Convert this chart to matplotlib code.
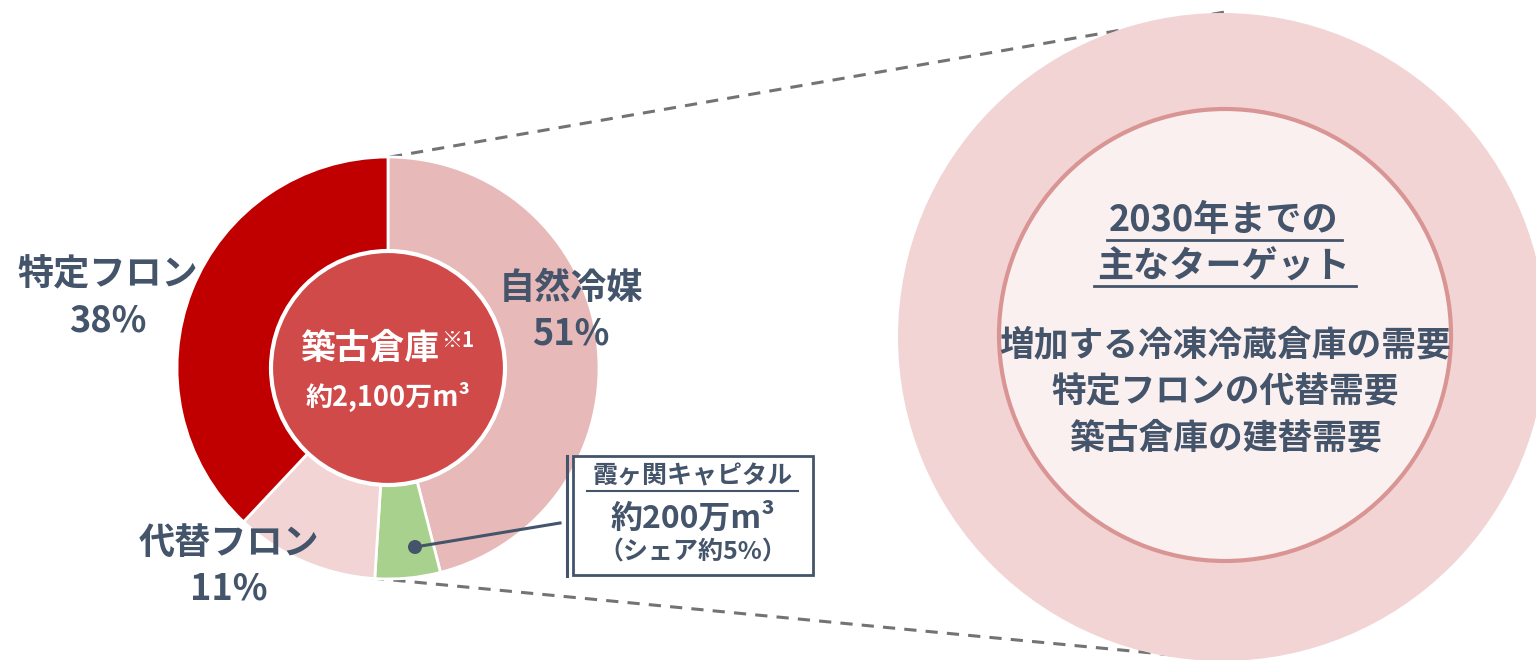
import matplotlib.pyplot as plt
from matplotlib.patches import Circle, Rectangle

plt.rcParams['font.family'] = ['Noto Sans CJK JP', 'DejaVu Sans']

# shares of the cold-storage market (clockwise from top)
segments = ['自然冷媒', '霞ヶ関キャピタル', '代替フロン', '特定フロン']
shares = [46, 5, 11, 38]
colors = ['#e8b9b9', '#a9d18e', '#f2d4d4', '#c00000']
labels = ['特定フロン\n38%', '自然冷媒\n51%', '代替フロン\n11%']
center_title = '築古倉庫'
center_value = '約2,100万m³'
callout_lines = ['霞ヶ関キャピタル', '約200万m³', '（シェア約5%）']
target_title = ['2030年までの', '主なターゲット']
target_items = ['増加する冷凍冷蔵倉庫の需要', '特定フロンの代替需要', '築古倉庫の建替需要']

txt = '#44546a'

fig = plt.figure(figsize=(15.36, 6.6), dpi=100)
ax = fig.add_axes([0, 0, 1, 1])

# right side: big target circle
ax.add_patch(Circle((1222, 337), 324, facecolor='#f2d4d4', edgecolor='none', zorder=1))
ax.add_patch(Circle((1225, 335), 226, facecolor='#fbf0f0', edgecolor='#d99594', lw=3, zorder=2))

# dashed connectors
ax.plot([390, 1225], [157, 12], ls=(0, (4, 3)), color='#737373', lw=2.2, zorder=0)
ax.plot([372, 1225], [578, 660], ls=(0, (4, 3)), color='#737373', lw=2.2, zorder=0)

# donut
cx, cy, r = 388, 368, 211
ax.pie(shares, colors=colors, center=(cx, cy), radius=r, startangle=-90, counterclock=True,
       wedgeprops=dict(width=95, edgecolor='white', linewidth=2))
ax.add_patch(Circle((cx, cy), 117, facecolor='#d04a4a', edgecolor='white', lw=3, zorder=5))

ax.text(370, 348, center_title, ha='center', va='center', color='white', fontsize=25,
        fontweight='bold', zorder=6)
ax.text(441, 340, '※1', ha='left', va='center', color='white', fontsize=15,
        fontweight='bold', zorder=6)
ax.text(388, 397, center_value, ha='center', va='center', color='white', fontsize=19.5,
        fontweight='bold', zorder=6)

# segment labels
label_pos = [(108, 298), (571, 311), (229, 566)]
for s, (x, y) in zip(labels, label_pos):
    ax.text(x, y, s, ha='center', va='center', color=txt, fontsize=26, fontweight='bold',
            linespacing=1.3)

# callout
ax.plot([415, 560], [547, 523], color=txt, lw=2.2, zorder=7)
ax.add_patch(Circle((415, 547), 7, facecolor=txt, edgecolor='none', zorder=8))
ax.plot([567, 567], [456, 576], color=txt, lw=2.2)
ax.add_patch(Rectangle((573, 456), 240, 119, facecolor='white', edgecolor=txt, lw=2))
ax.text(693, 476, callout_lines[0], ha='center', va='center', color=txt, fontsize=18,
        fontweight='bold')
ax.plot([587, 798], [491, 491], color=txt, lw=1.5)
ax.text(693, 519, callout_lines[1], ha='center', va='center', color=txt, fontsize=23,
        fontweight='bold')
ax.text(693, 553, callout_lines[2], ha='center', va='center', color=txt, fontsize=18,
        fontweight='bold')

# target text
ax.text(1224, 221, target_title[0], ha='center', va='center', color=txt, fontsize=26,
        fontweight='bold')
ax.plot([1107, 1342], [240, 240], color=txt, lw=2)
ax.text(1224, 267, target_title[1], ha='center', va='center', color=txt, fontsize=26,
        fontweight='bold')
ax.plot([1094, 1356], [286, 286], color=txt, lw=2)
for i, s in enumerate(target_items):
    ax.text(1225, 345 + 46.5 * i, s, ha='center', va='center', color=txt, fontsize=25,
            fontweight='bold')

ax.set_xlim(0, 1536)
ax.set_ylim(660, 0)
ax.set_aspect('equal')
ax.axis('off')

fig.savefig('out.png', dpi=100, facecolor='white')
